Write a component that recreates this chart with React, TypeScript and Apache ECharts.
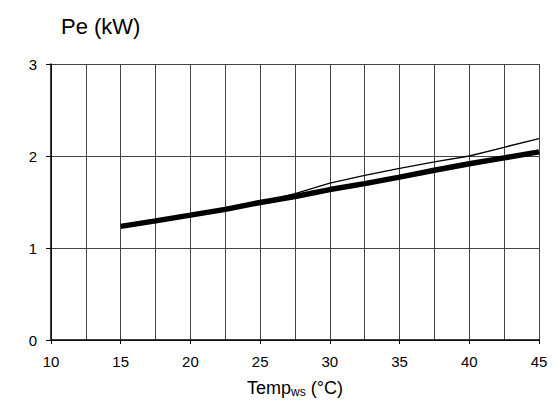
import React, { useEffect, useRef } from "react";
import * as echarts from "echarts";

const tempX = [15, 17.5, 20, 22.5, 25, 27.5, 30, 32.5, 35, 37.5, 40, 42.5, 45];
const peThick = [1.235, 1.295, 1.357, 1.42, 1.495, 1.56, 1.635, 1.70, 1.77, 1.845, 1.915, 1.98, 2.045];
const peThin = [1.235, 1.295, 1.357, 1.42, 1.495, 1.59, 1.705, 1.79, 1.866, 1.935, 2.0, 2.095, 2.19];
const yTicks = [0, 1, 2, 3];

const FONT = "'Liberation Sans', Arial, sans-serif";

export default function App() {
  const ref = useRef<HTMLDivElement>(null);
  useEffect(() => {
    if (!ref.current) return;
    const chart = echarts.init(ref.current, null, { renderer: "svg" });
    chart.setOption({
      animation: false,
      backgroundColor: "#fff",
      title: {
        text: "Pe (kW)",
        left: 56,
        top: 10,
        textStyle: { fontFamily: FONT, fontSize: 22, fontWeight: "normal", color: "#000" },
      },
      grid: { left: 51, top: 64, right: 21, bottom: 62, containLabel: false },
      xAxis: {
        type: "value",
        min: 10,
        max: 45,
        interval: 5,
        name: "Temp{sub|ws} (°C)",
        nameLocation: "middle",
        nameGap: 37,
        nameTextStyle: {
          fontFamily: FONT,
          fontSize: 18,
          color: "#000",
          rich: { sub: { fontFamily: FONT, fontSize: 12, color: "#000", verticalAlign: "bottom", padding: [9, 0, 0, 0] } },
        },
        axisLine: { show: true, onZero: false, lineStyle: { color: "#000", width: 1.5 } },
        axisTick: { show: true, inside: false, length: 4, lineStyle: { color: "#000" } },
        axisLabel: { fontFamily: FONT, fontSize: 15, color: "#000", margin: 14 },
        splitLine: { show: true, lineStyle: { color: "#444", width: 1 } },
        minorTick: { show: false, splitNumber: 2 },
        minorSplitLine: { show: true, lineStyle: { color: "#444", width: 1 } },
      },
      yAxis: {
        type: "value",
        min: yTicks[0],
        max: yTicks[yTicks.length - 1],
        interval: 1,
        axisLine: { show: true, onZero: false, lineStyle: { color: "#000", width: 1.5 } },
        axisTick: { show: true, inside: false, length: 5, lineStyle: { color: "#000" } },
        axisLabel: { fontFamily: FONT, fontSize: 15, color: "#000", margin: 14 },
        splitLine: { show: true, lineStyle: { color: "#444", width: 1 } },
      },
      series: [
        {
          type: "line",
          data: tempX.map((x, i) => [x, peThin[i]]),
          showSymbol: false,
          symbol: "none",
          lineStyle: { color: "#000", width: 1.3 },
          z: 2,
        },
        {
          type: "line",
          data: tempX.map((x, i) => [x, peThick[i]]),
          showSymbol: false,
          symbol: "none",
          lineStyle: { color: "#000", width: 5.5 },
          z: 3,
        },
      ],
    });
    return () => chart.dispose();
  }, []);
  return (
    <div
      ref={ref}
      style={{ position: "fixed", left: 0, top: 0, width: 560, height: 403, background: "#fff" }}
    />
  );
}
